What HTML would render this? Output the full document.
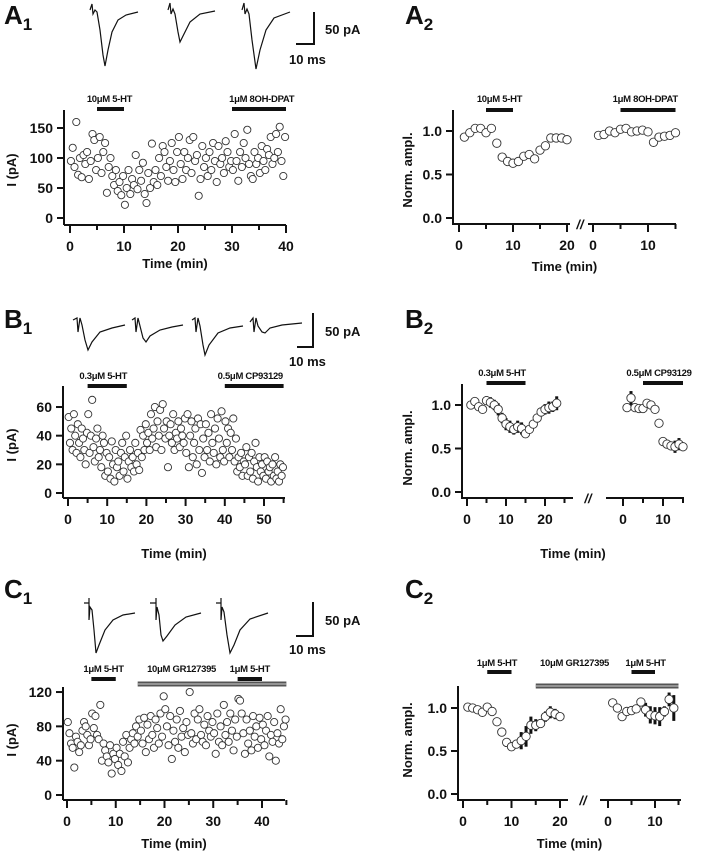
<!DOCTYPE html>
<html><head><meta charset="utf-8"><style>
html,body{margin:0;padding:0;background:#fff;}
svg{display:block;font-family:"Liberation Sans",Arial,sans-serif;}
</style></head><body>
<svg id="fig" width="702" height="853" viewBox="0 0 702 853">
<g font-weight="bold" fill="#111">
<text x="4" y="24" font-size="26">A<tspan font-size="17" dy="6">1</tspan></text>
<text x="405" y="24" font-size="26">A<tspan font-size="17" dy="6">2</tspan></text>
<text x="4" y="328" font-size="26">B<tspan font-size="17" dy="6">1</tspan></text>
<text x="405" y="328" font-size="26">B<tspan font-size="17" dy="6">2</tspan></text>
<text x="4" y="598" font-size="26">C<tspan font-size="17" dy="6">1</tspan></text>
<text x="405" y="598" font-size="26">C<tspan font-size="17" dy="6">2</tspan></text>
</g>
<g fill="none" stroke="#111" stroke-width="1.2">
<path d="M90,10 L92,4 L93,14 L95,10 L97,12 L100,30 L103,55 L105,66 L108,50 L112,32 L118,20 L126,15 L138,12"/>
<path d="M168,10 L170,3 L171,14 L173,9 L175,14 L178,32 L180,42 L184,34 L190,22 L200,14 L215,11"/>
<path d="M242,10 L244,3 L245,14 L247,9 L249,14 L252,40 L256,69 L260,50 L266,30 L274,18 L290,12"/>
<path d="M73,320 L77,318 L78,332 L80,318 L82,325 L85,340 L88,350 L92,342 L100,332 L112,328 L125,325"/>
<path d="M132,320 L135,318 L136,332 L138,318 L140,326 L143,338 L146,342 L150,336 L160,330 L172,327 L183,325"/>
<path d="M192,320 L195,318 L196,332 L198,318 L200,326 L203,345 L205,355 L209,345 L218,333 L230,328 L243,326"/>
<path d="M250,322 L253,318 L254,332 L256,318 L258,326 L262,332 L265,333 L270,328 L282,325 L302,323"/>
<path d="M84,603 L89,603 M89,598 L89,620 L90,607 L92,610 L94,630 L96,653 L99,645 L105,630 L113,620 L123,615 L135,613"/>
<path d="M150,603 L156,603 M156,598 L156,620 L157,607 L159,615 L161,635 L163,641 L167,636 L175,625 L186,617 L201,613"/>
<path d="M216,603 L221,603 M221,598 L221,620 L222,607 L224,612 L227,635 L230,653 L234,645 L240,630 L250,619 L268,613"/>
<path d="M314,12 L314,44 L296,44" stroke-width="2"/>
<path d="M313,313 L313,347 L297,347" stroke-width="2"/>
<path d="M313,602 L313,636 L296,636" stroke-width="2"/>
</g>
<g font-size="13" font-weight="bold" fill="#111">
<text x="325" y="34">50 pA</text>
<text x="289" y="64">10 ms</text>
<text x="325" y="336">50 pA</text>
<text x="289" y="366">10 ms</text>
<text x="325" y="625">50 pA</text>
<text x="289" y="654">10 ms</text>
</g>
</svg>
<script>
// ---------- data ----------
const aRawTicksX = [0,10,20,30,40];
const aRawTicksY = [0,50,100,150];
const aRaw = [95,117,85,160,72,100, 68,105,90,110,65,95, 140,130,80,100,135,75, 110,125,42,85,100,70,
 55,80,45,60,38,70, 22,50,80,40,65,55, 105,48,80,62,92,40, 25,75,50,124,60,80, 55,100,70,120,110,85,
 62,95,125,80,60,110, 135,90,65,110,80,100, 130,75,135,95,105,37, 65,120,85,100,70,110, 80,125,95,60,120,90,
 100,75,128,110,85,95, 80,140,95,62,110,85, 125,100,147,90,70,65, 110,90,100,75,120,95, 80,115,105,135,90,100,
 140,110,152,95,70,135];
const bRawTicksX = [0,10,20,30,40,50];
const bRawTicksY = [0,20,40,60];
const bRaw = [53,35,45,30,55,40,28,48,35,25,45,38,30,20,42, 55,28,40,65,32,22,38,45,25,30,18,40,35,12,28,
 15,25,10,36,20,8,30,18,22,12,28,35,15,25,40, 10,22,30,18,25,15,35,20,28,16,44,25,40,30,48,
 35,42,30,55,38,45,60,32,50,40,58,30,62,45,38, 50,18,40,48,35,55,30,42,38,50,32,45,40,35,52,
 28,55,18,40,50,25,35,45,20,52,30,48,14,38,25, 48,30,42,22,55,35,28,45,20,52,38,25,57,30,22,
 50,35,45,25,42,30,52,22,38,15,25,18,28,12,22, 20,32,12,25,15,28,10,22,35,18,8,25,15,20,12,
 25,10,22,15,18,8,20,12,25,10,15,8,20,12,18];
const cRawTicksX = [0,10,20,30,40];
const cRawTicksY = [0,40,80,120];
const cRaw = [85,72,60,55,32,68,62,50,58,75,85,80,70,58,65, 95,78,92,70,65,105,40,60,52,45,38,58,25,48,42,
 55,35,48,28,62,45,70,38,55,65,72,60,80,68,88, 75,60,90,50,82,65,92,70,55,88,78,60,95,68,115,
 100,80,58,92,42,75,62,88,55,98,68,78,50,85,70, 120,72,60,95,65,88,100,70,62,82,58,92,75,68,85,
 72,48,95,62,80,58,105,70,85,62,95,75,52,88,68, 112,110,95,72,48,88,60,75,52,92,68,80,55,90,65,
 82,58,75,92,45,70,62,85,40,72,60,100,65,80,88];

const normTicksY = [0,0.5,1.0];
const aNormLeft = [0.93,0.98,1.03,1.03,0.98,1.03,0.86,0.70,0.65,0.63,0.65,0.71,0.73,0.68,0.78,0.83,0.92,0.92,0.92,0.90];
const aNormLeftErr = [0.01,0.01,0.01,0.01,0.01,0.01,0.04,0.04,0.04,0.03,0.02,0.03,0.04,0.03,0.01,0.01,0.02,0.02,0.01,0.01];
const aNormRight = [0.95,0.96,1.0,0.98,1.02,1.03,0.99,1.0,1.01,0.99,0.87,0.93,0.94,0.95,0.98];
const aNormRightErr = [0.01,0.01,0.01,0.03,0.01,0.01,0.03,0.04,0.03,0.01,0.01,0.04,0.02,0.05,0.04];
const bNormLeft = [1.0,1.04,0.98,0.95,1.05,1.03,1.0,0.95,0.85,0.78,0.75,0.72,0.75,0.73,0.67,0.72,0.78,0.85,0.92,0.95,0.97,0.98,1.02];
const bNormLeftErr = [0.02,0.03,0.04,0.03,0.05,0.06,0.06,0.07,0.06,0.07,0.07,0.06,0.07,0.07,0.03,0.03,0.03,0.03,0.03,0.06,0.07,0.06,0.08];
const bNormRight = [0.97,1.08,0.97,0.96,0.96,1.02,1.0,0.95,0.79,0.58,0.55,0.53,0.52,0.55,0.52];
const bNormRightErr = [0.04,0.08,0.04,0.03,0.02,0.02,0.02,0.02,0.02,0.03,0.05,0.05,0.07,0.07,0.05];
const cNormLeft = [1.01,1.0,0.98,0.95,1.01,0.96,0.84,0.72,0.6,0.55,0.58,0.62,0.67,0.8,0.8,0.82,0.9,0.95,0.93,0.9];
const cNormLeftErr = [0.01,0.01,0.02,0.02,0.02,0.04,0.04,0.04,0.03,0.04,0.05,0.1,0.12,0.1,0.07,0.05,0.06,0.07,0.06,0.04];
const cNormRight = [1.06,1.0,0.9,0.96,0.97,0.99,1.07,0.98,0.92,0.91,0.9,0.96,1.1,1.0];
const cNormRightErr = [0.02,0.02,0.03,0.05,0.03,0.04,0.05,0.08,0.1,0.1,0.11,0.06,0.08,0.15];
const normLeftTicks = [0,10,20];
const normRightTicks = [0,10];

// ---------- drawing ----------
const svg = document.getElementById('fig');
const NS = 'http://www.w3.org/2000/svg';
function el(tag, attrs, parent){
  const e = document.createElementNS(NS, tag);
  for (const k in attrs) e.setAttribute(k, attrs[k]);
  (parent||svg).appendChild(e);
  return e;
}
function txt(x,y,s,size,anchor,parent){
  const t = el('text',{x:x,y:y,'font-size':size,'font-weight':'bold','text-anchor':anchor||'middle',fill:'#111'},parent);
  t.textContent = s;
  return t;
}

function yAxis(g, x, y0px, yTop, scaleY, ticks, fmt){
  const ax = el('line',{x1:x,y1:yTop,x2:x,y2:y0px+7,stroke:'#111','stroke-width':2},g);
  
  
  ticks.forEach(v=>{
    const y = scaleY(v);
    el('line',{x1:x-7,y1:y,x2:x,y2:y,stroke:'#111','stroke-width':2},g);
    const t = txt(x-11,y+5,fmt(v),14,'end',g);
    
    
  });
}
function xAxis(g, x1, x2, yPx, scaleX, maxT, labelTicks, minorStep){
  const ax = el('line',{x1:x1,y1:yPx,x2:x2,y2:yPx,stroke:'#111','stroke-width':2},g);
  
  
  for(let t=0;t<=maxT;t+=minorStep){
    const major = labelTicks.indexOf(t)>=0;
    el('line',{x1:scaleX(t),y1:yPx,x2:scaleX(t),y2:yPx+(major?8:5),stroke:'#111','stroke-width':2},g);
  }
  labelTicks.forEach(v=>{
    const t = txt(scaleX(v),yPx+26,String(v),14,'middle',g);
    
    
  });
}
function drugBar(g,x1,x2,y,label,lx,ly,gray){
  const b = el('line',{x1:x1,y1:y,x2:x2,y2:y,stroke:gray?'#555':'#111','stroke-width':gray?5:4},g);
  
  
  if(gray){ el('line',{x1:x1,y1:y,x2:x2,y2:y,stroke:'#aaa','stroke-width':1.5},g); }
  if(label){
    const t = txt(lx,ly,label,9.5,'middle',g);
    t.setAttribute('letter-spacing','-0.3');
    
    
  }
}

function rawPanel(name, data, perMin, x0, pxMin, y0, pxUnit, yTop, xEnd, maxT, tx, ty, yAxisX, xAxisY, titleY, yTitleY){
  const g = el('g',{});
  
  
  const sx = t => x0 + t*pxMin;
  const sy = v => y0 - v*pxUnit;
  yAxis(g, yAxisX, xAxisY-7, yTop, sy, ty, v=>String(v));
  xAxis(g, yAxisX, xEnd, xAxisY, sx, maxT, tx, 5);
  data.forEach((v,i)=>{
    const c = el('circle',{cx:sx((i+0.5)/perMin),cy:sy(v),r:3.6,fill:'#fff',stroke:'#333','stroke-width':0.9},g);
    
    
  });
  const xt = txt((yAxisX+xEnd)/2, titleY, 'Time (min)', 13, 'middle', g);
  
  
  const yt = txt(0,0,'I (pA)',13,'middle',g);
  yt.setAttribute('transform','translate(16,'+yTitleY+') rotate(-90)');
  
  
  return {g,sx,sy};
}

function normSeries(g, vals, errs, sx, sy){
  vals.forEach((v,i)=>{
    const x = sx(i+1);
    const e = el('line',{x1:x,y1:sy(v+errs[i]),x2:x,y2:sy(v-errs[i]),stroke:'#111','stroke-width':3},g);
    
    
  });
  vals.forEach((v,i)=>{
    const c = el('circle',{cx:sx(i+1),cy:sy(v),r:4.2,fill:'#fff',stroke:'#333','stroke-width':0.9},g);
    
    
  });
}

function normPanel(name, p){
  const g = el('g',{});
  
  
  const sy = v => p.y0 - v*p.pxUnit;
  const sxL = t => p.lx0 + t*p.lpx;
  const sxR = t => p.rx0 + t*p.rpx;
  yAxis(g, p.axX, p.axisY-6, p.yTop, sy, normTicksY, v=>v.toFixed(1));
  xAxis(g, p.axX, p.lEnd, p.axisY, sxL, p.lMax, normLeftTicks, 5);
  xAxis(g, p.rStart, p.rEnd, p.axisY, sxR, 15, normRightTicks, 5);
  const br = txt(p.brk, p.axisY+5, '//', 13, 'middle', g);
  br.setAttribute('font-style','italic');
  
  
  normSeries(g, p.left, p.leftErr, sxL, sy);
  normSeries(g, p.right, p.rightErr, sxR, sy);
  const xt = txt((p.axX+p.rEnd)/2, p.titleY, 'Time (min)', 13, 'middle', g);
  
  
  const yt = txt(0,0,'Norm. ampl.',13,'middle',g);
  yt.setAttribute('transform','translate(412,'+p.yTitleY+') rotate(-90)');
  
  
  return {g,sxL,sxR,sy};
}

// A1
const A1 = rawPanel('panel-a1-raw', aRaw, 3, 70, 5.4, 218, 0.6, 110, 286, 40, aRawTicksX, aRawTicksY, 64, 225, 268, 170);
drugBar(A1.g, A1.sx(5), A1.sx(10), 109, '10μM 5-HT', A1.sx(7.5)-1, 102);
drugBar(A1.g, A1.sx(30), A1.sx(40), 109, '1μM 8OH-DPAT', A1.sx(35.5), 102);
// A2
const A2 = normPanel('panel-a2-norm',{y0:218,pxUnit:87,yTop:110,axX:453,axisY:224,lx0:459,lpx:5.4,lEnd:570,lMax:20,
  rx0:593,rpx:5.5,rStart:588,rEnd:676,brk:580,left:aNormLeft,leftErr:aNormLeftErr,right:aNormRight,rightErr:aNormRightErr,titleY:271,yTitleY:170});
drugBar(A2.g, A2.sxL(5), A2.sxL(10), 110, '10μM 5-HT', A2.sxL(7.5), 102);
drugBar(A2.g, A2.sxR(5), A2.sxR(15), 110, '1μM 8OH-DPAT', A2.sxR(9.5), 102);
// B1
const B1 = rawPanel('panel-b1-raw', bRaw, 3, 68, 3.92, 493, 1.433, 386, 285, 55, bRawTicksX, bRawTicksY, 63, 498, 558, 445);
drugBar(B1.g, B1.sx(5), B1.sx(15), 386, '0.3μM 5-HT', B1.sx(9), 379);
drugBar(B1.g, B1.sx(40), B1.sx(55), 386, '0.5μM CP93129', B1.sx(46.5), 379);
// B2
const B2 = normPanel('panel-b2-norm',{y0:492,pxUnit:87,yTop:384,axX:462,axisY:498,lx0:467,lpx:3.9,lEnd:573,lMax:25,
  rx0:623,rpx:4.0,rStart:606,rEnd:684,brk:588,left:bNormLeft,leftErr:bNormLeftErr,right:bNormRight,rightErr:bNormRightErr,titleY:558,yTitleY:448});
drugBar(B2.g, B2.sxL(5), B2.sxL(15), 383, '0.3μM 5-HT', B2.sxL(9), 376);
drugBar(B2.g, B2.sxR(5), B2.sxR(15), 383, '0.5μM CP93129', B2.sxR(9), 376);
// C1
const C1 = rawPanel('panel-c1-raw', cRaw, 3, 67, 4.875, 795, 0.858, 687, 285, 45, cRawTicksX, cRawTicksY, 63, 800, 848, 740);
drugBar(C1.g, C1.sx(5), C1.sx(10), 679, '1μM 5-HT', C1.sx(7.5), 672);
drugBar(C1.g, C1.sx(14.5), C1.sx(45), 684, '10μM GR127395', C1.sx(23.5), 672, true);
drugBar(C1.g, C1.sx(35), C1.sx(40), 679, '1μM 5-HT', C1.sx(37.5), 672);
// C2
const C2 = normPanel('panel-c2-norm',{y0:794,pxUnit:86,yTop:686,axX:458,axisY:800,lx0:463,lpx:4.85,lEnd:568,lMax:20,
  rx0:608,rpx:4.7,rStart:600,rEnd:681,brk:583,left:cNormLeft,leftErr:cNormLeftErr,right:cNormRight,rightErr:cNormRightErr,titleY:848,yTitleY:740});
drugBar(C2.g, C2.sxL(5), C2.sxL(10), 672, '1μM 5-HT', C2.sxL(7), 666);
drugBar(C2.g, C2.sxL(15), C2.sxR(15), 686, '10μM GR127395', C2.sxL(23), 666, true);
drugBar(C2.g, C2.sxR(5), C2.sxR(10), 672, '1μM 5-HT', C2.sxR(8), 666);
</script>
</body></html>
